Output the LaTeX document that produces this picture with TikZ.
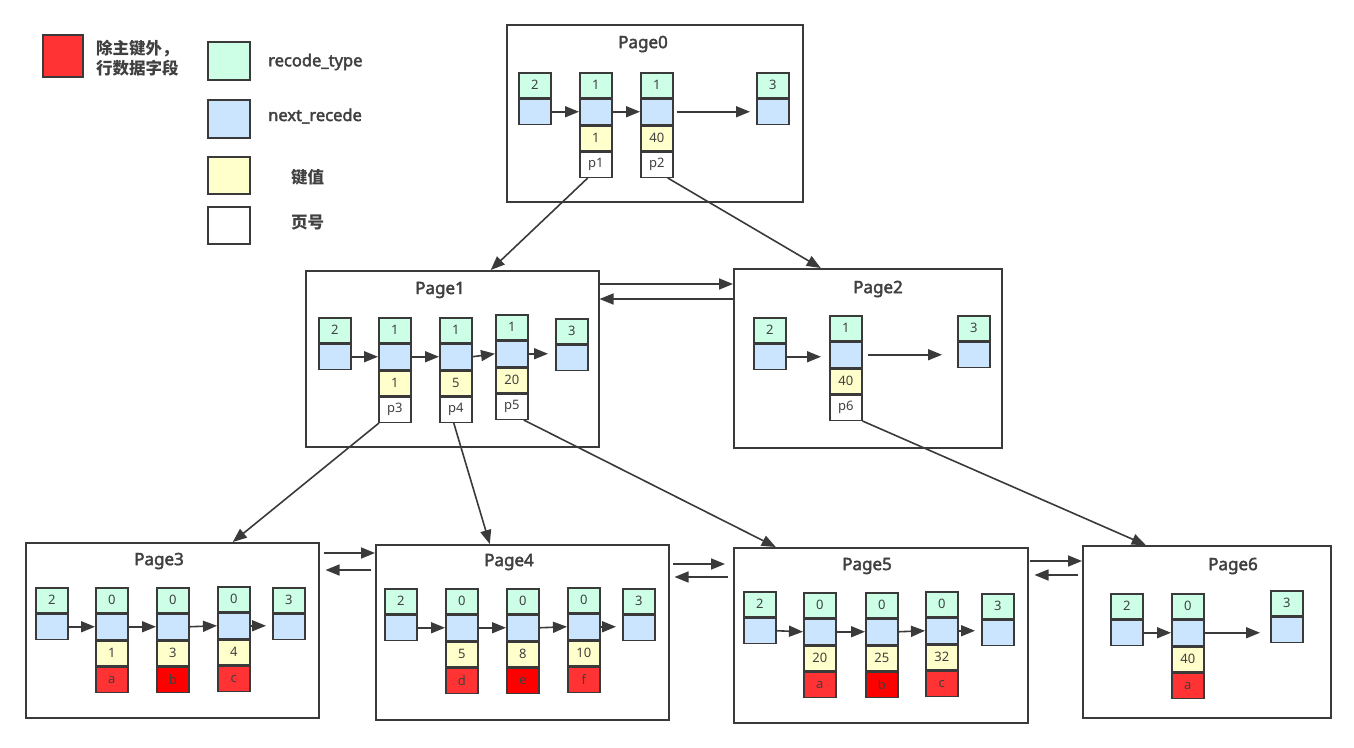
\documentclass[tikz,border=0pt]{standalone}
\usepackage{fontspec}
\setmainfont{Noto Sans}
\newfontfamily\bsans[FakeBold=2.5]{Noto Sans}
\newfontfamily\cjk{Noto Sans CJK SC}
\usetikzlibrary{arrows.meta,calc}
\definecolor{lc}{HTML}{3A3A3A}
\definecolor{tc}{HTML}{404040}
\definecolor{cgreen}{HTML}{CCFFE6}
\definecolor{cblue}{HTML}{CCE5FF}
\definecolor{cyellow}{HTML}{FFFFCC}
\definecolor{cred}{HTML}{FF3333}
\definecolor{cred2}{HTML}{FF0000}
\tikzset{
  cellbox/.style={draw=lc, line width=1.5pt, minimum width=32pt, minimum height=25pt,
    inner sep=0pt, anchor=north west, font=\fontsize{13}{13}\selectfont, text=tc},
  cg/.style={cellbox, fill=cgreen},
  cb/.style={cellbox, fill=cblue},
  cy/.style={cellbox, fill=cyellow},
  cw/.style={cellbox, fill=white},
  cr/.style={cellbox, fill=cred},
  crr/.style={cellbox, fill=cred2},
  pagebox/.style={draw=lc, line width=1.5pt, anchor=north west, inner sep=0pt},
  ptitle/.style={font=\bsans\fontsize{17}{17}\selectfont, text=tc},
  legbox/.style={draw=lc, line width=1.5pt, anchor=north west, minimum width=42pt, minimum height=38pt, inner sep=0pt},
  legtext/.style={anchor=west, font=\bsans\fontsize{16.5}{20}\selectfont, text=tc, inner sep=0pt},
  legcjk/.style={anchor=west, font=\cjk\bfseries\fontsize{16.5}{20}\selectfont, text=tc, inner sep=0pt},
  arr/.style={draw=lc, line width=1.6pt, -{Triangle[length=14pt,width=11pt]}}
}
\newcommand\kcol[7]{%
  \node[cg] (#1g) at (#2,#3) {#4};
  \node[cb] (#1b) at (#1g.south west) {};
  \node[cy] (#1y) at (#1b.south west) {#5};
  \node[#6] (#1w) at (#1y.south west) {#7};
}
\newcommand\ecol[4]{%
  \node[cg] (#1g) at (#2,#3) {#4};
  \node[cb] (#1b) at (#1g.south west) {};
}
\begin{document}
\begin{tikzpicture}[x=1pt,y=-1pt]
\useasboundingbox (0,0) rectangle (1354,747);

% legend
\node[legbox, fill=cred, minimum width=40pt, minimum height=42pt] (lr) at (42,34) {};
\node[legcjk, align=left] (lrt) at (96,58) {除主键外，\\行数据字段};
\node[legbox, fill=cgreen] (lg) at (207,41) {};
\node[legtext] (lgt) at (268,62) {recode\_type};
\node[legbox, fill=cblue] (lb) at (207,99) {};
\node[legtext] (lbt) at (268,116) {next\_recede};
\node[legbox, fill=cyellow, minimum height=37pt] (ly) at (207,156) {};
\node[legcjk] (lyt) at (291,177) {键值};
\node[legbox, fill=white, minimum height=37pt] (lw) at (207,206) {};
\node[legcjk] (lwt) at (291,222) {页号};

% pages
\node[pagebox, minimum width=296pt, minimum height=177pt] (pg0) at (506,24) {};
\node[pagebox, minimum width=293pt, minimum height=176pt] (pg1) at (305,270) {};
\node[pagebox, minimum width=268pt, minimum height=179pt] (pg2) at (733,268) {};
\node[pagebox, minimum width=293pt, minimum height=175pt] (pg3) at (25,542) {};
\node[pagebox, minimum width=293pt, minimum height=175pt] (pg4) at (375,544) {};
\node[pagebox, minimum width=294pt, minimum height=175pt] (pg5) at (733,547) {};
\node[pagebox, minimum width=248pt, minimum height=172pt] (pg6) at (1082,545) {};

\node[ptitle] (t0) at (643,44) {Page0};
\node[ptitle] (t1) at (440,290) {Page1};
\node[ptitle] (t2) at (878,289) {Page2};
\node[ptitle] (t3) at (159,561) {Page3};
\node[ptitle] (t4) at (509,562) {Page4};
\node[ptitle] (t5) at (867,566) {Page5};
\node[ptitle] (t6) at (1233,566) {Page6};

% page 0
\ecol{p0x}{518}{72}{2}
\kcol{p0a}{579}{72}{1}{1}{cw}{p1}
\kcol{p0b}{640}{72}{1}{40}{cw}{p2}
\ecol{p0z}{756}{72}{3}
% page 1
\ecol{p1x}{318}{317}{2}
\kcol{p1a}{378}{317}{1}{1}{cw}{p3}
\kcol{p1b}{439}{317}{1}{5}{cw}{p4}
\kcol{p1c}{495}{314}{1}{20}{cw}{p5}
\ecol{p1z}{555}{318}{3}
% page 2
\ecol{p2x}{753}{317}{2}
\kcol{p2a}{829}{315}{1}{40}{cw}{p6}
\ecol{p2z}{957}{315}{3}
% page 3
\ecol{p3x}{35}{587}{2}
\kcol{p3a}{95}{587}{0}{1}{cr}{a}
\kcol{p3b}{156}{587}{0}{3}{crr}{b}
\kcol{p3c}{217}{586}{0}{4}{cr}{c}
\ecol{p3z}{272}{587}{3}
% page 4
\ecol{p4x}{384}{588}{2}
\kcol{p4a}{445}{588}{0}{5}{cr}{d}
\kcol{p4b}{506}{588}{0}{8}{crr}{e}
\kcol{p4c}{567}{587}{0}{10}{cr}{f}
\ecol{p4z}{622}{588}{3}
% page 5
\ecol{p5x}{743}{591}{2}
\kcol{p5a}{803}{592}{0}{20}{cr}{a}
\kcol{p5b}{865}{592}{0}{25}{crr}{b}
\kcol{p5c}{925}{591}{0}{32}{cr}{c}
\ecol{p5z}{981}{593}{3}
% page 6
\ecol{p6x}{1110}{593}{2}
\kcol{p6a}{1171}{593}{0}{40}{cr}{a}
\ecol{p6z}{1270}{590}{3}

% in-page arrows
\draw[arr] (p0xb.east) -- (p0ab.west);
\draw[arr] (p0ab.east) -- (p0bb.west);
\draw[arr] ([xshift=3pt]p0bb.east) -- ([xshift=-6pt]p0zb.west);

\draw[arr] (p1xb.east) -- (p1ab.west);
\draw[arr] (p1ab.east) -- (p1bb.west);
\draw[arr] (p1bb.east) -- (p1cb.west);
\draw[arr] (p1cb.east) -- ([xshift=-7pt]p1cb.east -| p1zb.west);

\draw[arr] (p2xb.east) -- ([xshift=-8pt]p2xb.east -| p2ab.west);
\draw[arr] ([xshift=5pt]p2ab.east) -- ([xshift=-15pt]p2zb.west);

\draw[arr] (p3xb.east) -- (p3ab.west);
\draw[arr] (p3ab.east) -- (p3bb.west);
\draw[arr] (p3bb.east) -- (p3cb.west);
\draw[arr] (p3cb.east) -- ([xshift=-6pt]p3cb.east -| p3zb.west);

\draw[arr] (p4xb.east) -- (p4ab.west);
\draw[arr] (p4ab.east) -- (p4bb.west);
\draw[arr] (p4bb.east) -- (p4cb.west);
\draw[arr] (p4cb.east) -- ([xshift=-6pt]p4cb.east -| p4zb.west);

\draw[arr] (p5xb.east) -- (p5ab.west);
\draw[arr] (p5ab.east) -- (p5bb.west);
\draw[arr] (p5bb.east) -- (p5cb.west);
\draw[arr] (p5cb.east) -- ([xshift=-6pt]p5cb.east -| p5zb.west);

\draw[arr] (p6xb.east) -- (p6ab.west);
\draw[arr] (p6ab.east) -- ([xshift=-10pt]p6ab.east -| p6zb.west);

% tree arrows
\draw[arr] ([xshift=-8pt]p0aw.south) -- ([xshift=38.5pt]pg1.north);
\draw[arr] ([xshift=11pt]p0bw.south) -- ([xshift=-47pt]pg2.north);
\draw[arr] ([xshift=1pt]p1aw.south west) -- ([xshift=60.5pt]pg3.north);
\draw[arr] ([xshift=-2pt]p1bw.south) -- ([xshift=-32.5pt]pg4.north);
\draw[arr] ([xshift=12pt]p1cw.south) -- ([xshift=-105pt]pg5.north);
\draw[arr] (p2aw.south east) -- ([xshift=-61pt]pg6.north);

% sibling arrows
\draw[arr] ($(pg1.north east)+(0,14)$) coordinate (a12) -- (a12 -| pg2.west);
\draw[arr] ($(pg2.north west)+(0,31)$) coordinate (a21) -- (a21 -| pg1.east);

\draw[arr] ($(pg3.north east)+(4,11)$) coordinate (a34) -- (a34 -| pg4.west);
\draw[arr] ($(pg4.north west)+(-4,26)$) coordinate (a43) -- ($(a43 -| pg3.east)+(6,0)$);

\draw[arr] ($(pg4.north east)+(3,20)$) coordinate (a45) -- ($(a45 -| pg5.west)+(-8,0)$);
\draw[arr] ($(pg5.north west)+(-5,30)$) coordinate (a54) -- ($(a54 -| pg4.east)+(5,0)$);

\draw[arr] ($(pg5.north east)+(1,14)$) coordinate (a56) -- (a56 -| pg6.west);
\draw[arr] ($(pg6.north west)+(-4,30)$) coordinate (a65) -- ($(a65 -| pg5.east)+(6,0)$);
\end{tikzpicture}
\end{document}
